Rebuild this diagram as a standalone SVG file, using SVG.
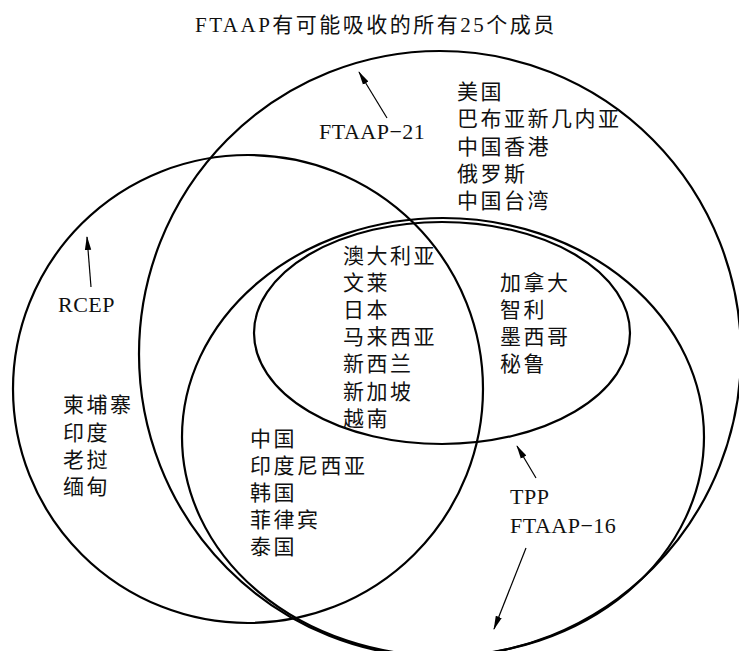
<svg xmlns="http://www.w3.org/2000/svg" width="739" height="651" viewBox="0 0 739 651">
<style>
.set{fill:none;stroke:#000;stroke-width:2.2}
.arr{stroke:#000;stroke-width:1.2;fill:none}
.cjk{font-family:"Liberation Serif","Noto Sans CJK SC",serif;font-size:21px;letter-spacing:2.5px;fill:#111}
.lat{font-family:"Liberation Serif","Noto Sans CJK SC",serif;font-size:22px;letter-spacing:0.5px;fill:#111}
</style>
<defs>
<marker id="ah" viewBox="0 0 14 8" refX="13" refY="4" markerWidth="14" markerHeight="8" markerUnits="userSpaceOnUse" orient="auto">
<path d="M0,0.8 L14,4 L0,7.2 Z" fill="#000"/>
</marker>
</defs>
<rect width="739" height="651" fill="#fff"/>
<text id="title" class="cjk" x="195" y="32">FTAAP有可能吸收的所有25个成员</text>
<g id="sets">
<ellipse id="ftaap21" class="set" cx="440" cy="354" rx="301" ry="303"/>
<ellipse id="rcep" class="set" cx="248" cy="389" rx="235" ry="234"/>
<ellipse id="tpp16" class="set" cx="443" cy="437" rx="261" ry="219"/>
<ellipse id="tppcore" class="set" cx="442" cy="333" rx="188" ry="111"/>
</g>
<g id="connectors">
<line class="arr" x1="387" y1="118" x2="359" y2="72" marker-end="url(#ah)"/>
<line class="arr" x1="91" y1="287" x2="87" y2="237" marker-end="url(#ah)"/>
<line class="arr" x1="536" y1="478" x2="517" y2="446" marker-end="url(#ah)"/>
<line class="arr" x1="526" y1="548" x2="494" y2="629" marker-end="url(#ah)"/>
</g>
<g id="label-ftaap21"><text class="lat" x="319" y="139">FTAAP−21</text></g>
<g id="label-rcep"><text class="lat" x="58" y="312">RCEP</text></g>
<g id="label-tpp"><text class="lat" x="510" y="504">TPP</text><text class="lat" x="510" y="533">FTAAP−16</text></g>
<g id="group-ftaap21-only" class="cjk">
<text x="457" y="99">美国</text>
<text x="457" y="126">巴布亚新几内亚</text>
<text x="457" y="154">中国香港</text>
<text x="457" y="181">俄罗斯</text>
<text x="457" y="208">中国台湾</text>
</g>
<g id="group-core" class="cjk">
<text x="343" y="263">澳大利亚</text>
<text x="343" y="290">文莱</text>
<text x="343" y="317">日本</text>
<text x="343" y="344">马来西亚</text>
<text x="343" y="371">新西兰</text>
<text x="343" y="399">新加坡</text>
<text x="343" y="426">越南</text>
</g>
<g id="group-tpp-only" class="cjk">
<text x="500" y="290">加拿大</text>
<text x="500" y="317">智利</text>
<text x="500" y="344">墨西哥</text>
<text x="500" y="371">秘鲁</text>
</g>
<g id="group-rcep-only" class="cjk">
<text x="63" y="412">柬埔寨</text>
<text x="63" y="440">印度</text>
<text x="63" y="467">老挝</text>
<text x="63" y="494">缅甸</text>
</g>
<g id="group-rcep-ftaap16" class="cjk">
<text x="250" y="446">中国</text>
<text x="250" y="473">印度尼西亚</text>
<text x="250" y="500">韩国</text>
<text x="250" y="527">菲律宾</text>
<text x="250" y="554">泰国</text>
</g>
</svg>
